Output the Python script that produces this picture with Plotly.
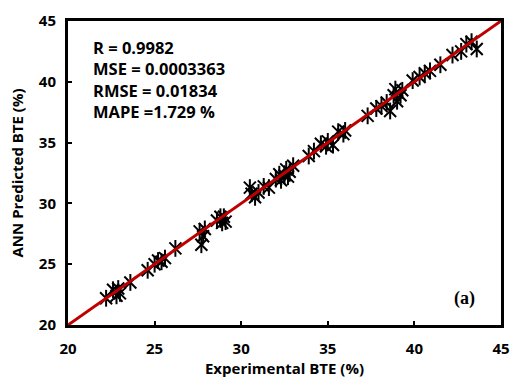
import plotly.graph_objects as go

experimental = [22.2, 22.6, 22.8, 23.0, 22.9, 23.6, 24.6, 25.0, 25.2, 25.4, 25.6, 26.2,
                27.6, 27.7, 27.8, 27.9, 28.6, 28.8, 28.9, 29.1, 29.0,
                30.5, 30.6, 30.8, 31.0, 31.3, 31.6,
                32.0, 32.2, 32.3, 32.5, 32.6, 32.8, 33.0, 32.7,
                33.9, 34.2, 34.6, 34.9, 35.0, 35.3, 35.6, 35.9, 36.0,
                37.3, 37.8, 38.1, 38.4, 38.6, 38.8, 39.0, 39.2, 39.3, 38.9,
                39.9, 40.3, 40.6, 40.9, 41.5, 42.2, 42.7, 43.0, 43.3, 43.6]
predicted = [22.2, 22.9, 22.4, 22.6, 23.0, 23.5, 24.5, 25.0, 25.3, 25.2, 25.5, 26.3,
             27.7, 26.6, 27.3, 27.9, 28.6, 28.9, 28.4, 28.5, 28.9,
             31.3, 30.8, 30.5, 30.9, 31.4, 31.3,
             32.0, 32.4, 31.9, 32.3, 32.8, 32.6, 33.1, 32.2,
             33.9, 34.3, 34.9, 34.7, 35.1, 34.8, 35.9, 35.7, 36.0,
             37.2, 37.8, 38.0, 38.3, 37.6, 38.9, 38.4, 38.9, 39.3, 39.4,
             40.1, 40.4, 40.7, 40.9, 41.4, 42.2, 42.5, 43.1, 43.3, 42.7]
fit_line = [20, 45]
x_ticks = [20, 25, 30, 35, 40, 45]
y_ticks = [20, 25, 30, 35, 40, 45]
stats_text = ["R = 0.9982", "MSE = 0.0003363", "RMSE = 0.01834", "MAPE =1.729 %"]

FONT = "Open Sans"

fig = go.Figure()
fig.add_trace(go.Scatter(x=experimental, y=predicted, mode="markers",
                         marker=dict(symbol="x-thin-open", size=12, color="black",
                                     line=dict(color="black", width=2)),
                         hoverinfo="skip", showlegend=False))
fig.add_trace(go.Scatter(x=experimental, y=predicted, mode="markers",
                         marker=dict(symbol="line-ns-open", size=12, color="black",
                                     line=dict(color="black", width=2)),
                         showlegend=False))
fig.add_trace(go.Scatter(x=fit_line, y=fit_line, mode="lines",
                         line=dict(color="#C00000", width=3), showlegend=False))

axis_common = dict(showline=True, linecolor="black", linewidth=3, mirror=True,
                   ticks="inside", ticklen=4, tickwidth=2, tickcolor="black",
                   showgrid=False, zeroline=False,
                   tickfont=dict(family=FONT, size=15, color="black", weight="bold"))
fig.update_xaxes(range=[20, 45], tickvals=x_ticks,
                 ticklabelstandoff=8, **axis_common,
                 title=dict(text="Experimental BTE (%)", standoff=4,
                            font=dict(family=FONT, size=15, color="black", weight="bold")))
fig.update_yaxes(range=[20, 45], tickvals=y_ticks,
                 ticklabelstandoff=6, **axis_common,
                 title=dict(text="ANN Predicted BTE (%)", standoff=12,
                            font=dict(family=FONT, size=15, color="black", weight="bold")))

fig.add_annotation(x=0.052, y=0.957, xref="paper", yref="paper", xanchor="left", yanchor="top",
                   text="<br>".join(stats_text), showarrow=False, align="left",
                   font=dict(family=FONT, size=16.5, color="black", weight="bold"))
fig.add_annotation(x=0.945, y=0.088, xref="paper", yref="paper", xanchor="right", yanchor="middle",
                   text="(a)", showarrow=False,
                   font=dict(family="Liberation Serif, Times New Roman, serif", size=18,
                             color="black", weight="bold"))

fig.update_layout(width=520, height=383, margin=dict(l=68, r=10, t=19, b=55),
                  plot_bgcolor="white", paper_bgcolor="white")
fig.write_html("out.html")
